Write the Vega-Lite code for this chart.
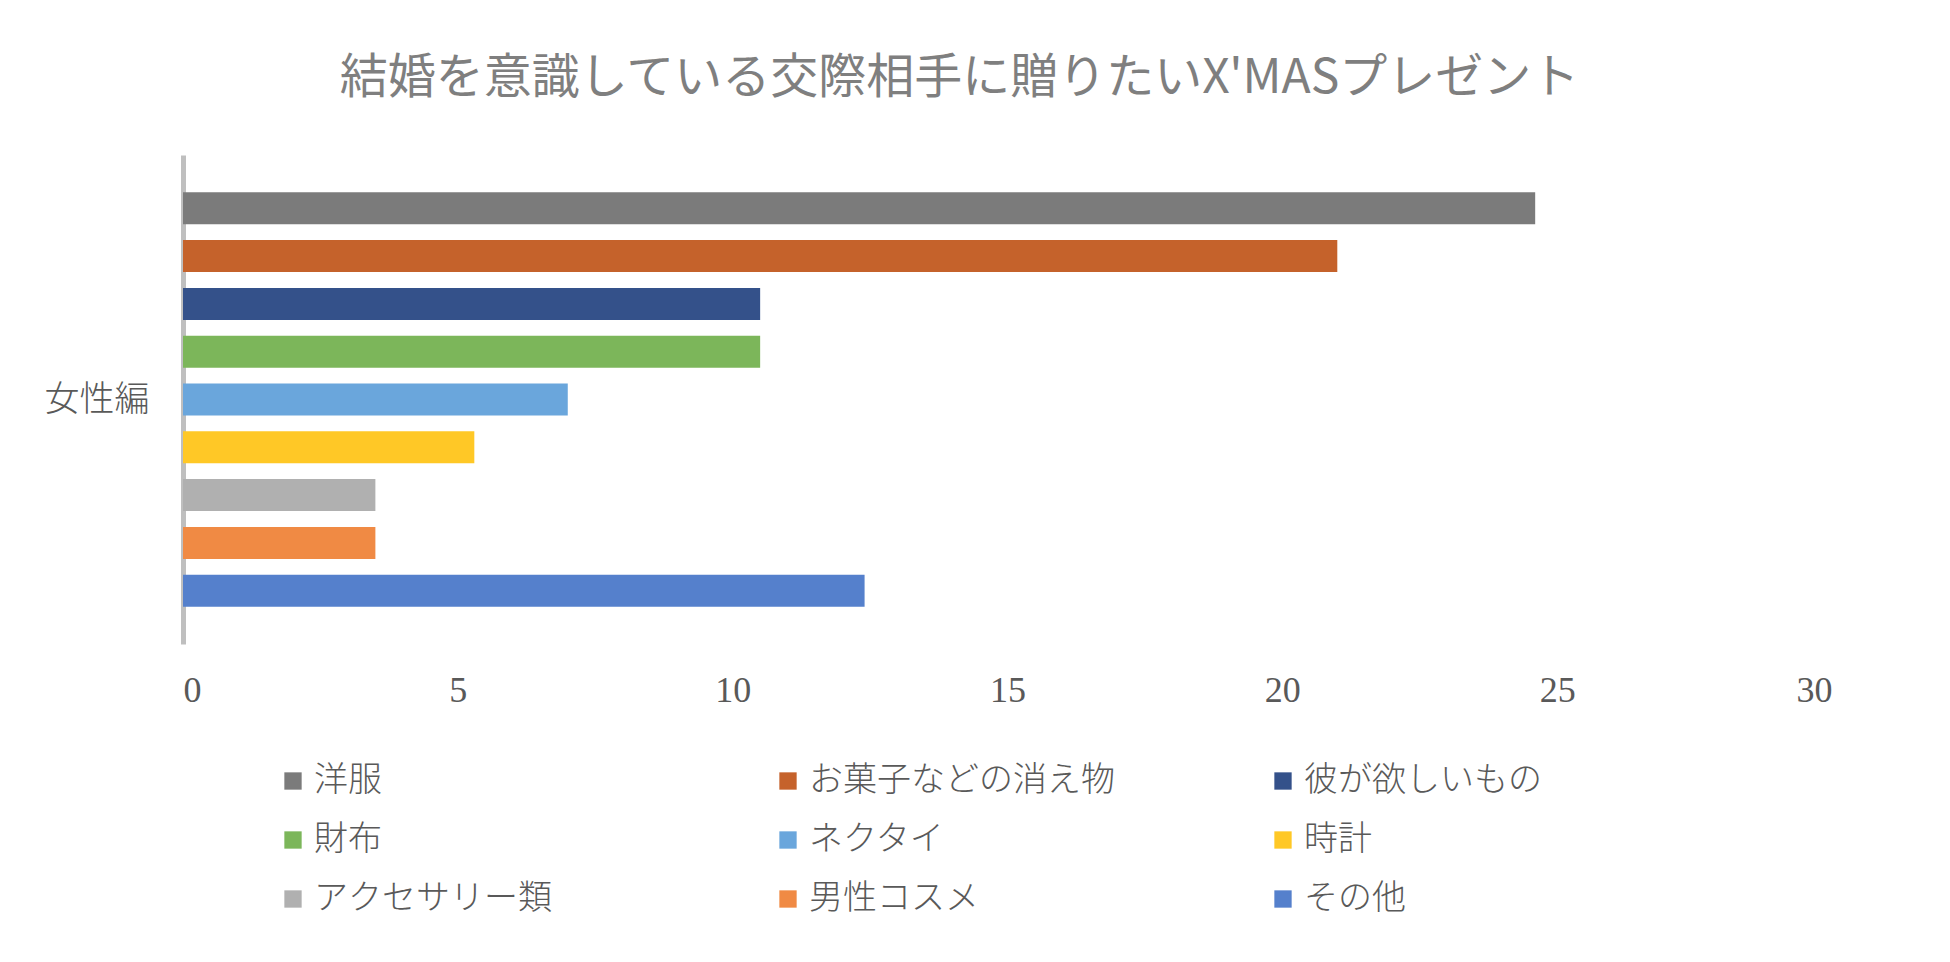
{
  "$schema": "https://vega.github.io/schema/vega-lite/v6.json",
  "width": 1649,
  "height": 489,
  "autosize": {"type": "none"},
  "padding": {"left": 183, "top": 155, "right": 118, "bottom": 318},
  "background": "white",
  "title": {
    "text": "結婚を意識している交際相手に贈りたいX'MASプレゼント",
    "anchor": "middle",
    "font": "Noto Sans CJK JP",
    "fontSize": 48,
    "fontWeight": 400,
    "color": "#7f7f7f",
    "offset": 52,
    "dx": -48
  },
  "data": {
    "values": [
      {"group": "女性編", "item": "洋服", "value": 24.6},
      {"group": "女性編", "item": "お菓子などの消え物", "value": 21.0},
      {"group": "女性編", "item": "彼が欲しいもの", "value": 10.5},
      {"group": "女性編", "item": "財布", "value": 10.5},
      {"group": "女性編", "item": "ネクタイ", "value": 7.0},
      {"group": "女性編", "item": "時計", "value": 5.3},
      {"group": "女性編", "item": "アクセサリー類", "value": 3.5},
      {"group": "女性編", "item": "男性コスメ", "value": 3.5},
      {"group": "女性編", "item": "その他", "value": 12.4}
    ]
  },
  "mark": {"type": "bar"},
  "encoding": {
    "y": {
      "field": "group",
      "type": "nominal",
      "title": null,
      "scale": {"paddingOuter": 0.09, "paddingInner": 0},
      "axis": {
        "domainColor": "#bfbfbf",
        "domainWidth": 5,
        "ticks": false,
        "labelAngle": 0,
        "labelFont": "Noto Sans CJK JP",
        "labelFontWeight": 300,
        "labelFontSize": 35,
        "labelColor": "#595959",
        "labelPadding": 34
      }
    },
    "yOffset": {
      "field": "item",
      "type": "nominal",
      "sort": ["洋服", "お菓子などの消え物", "彼が欲しいもの", "財布", "ネクタイ", "時計", "アクセサリー類", "男性コスメ", "その他"],
      "scale": {"paddingInner": 0.33, "paddingOuter": 0}
    },
    "x": {
      "field": "value",
      "type": "quantitative",
      "title": null,
      "scale": {"domain": [0, 30]},
      "axis": {
        "values": [0, 5, 10, 15, 20, 25, 30],
        "grid": false,
        "domain": false,
        "ticks": false,
        "labelFont": "Liberation Serif",
        "labelFontSize": 36,
        "labelColor": "#595959",
        "labelPadding": 29
      }
    },
    "color": {
      "field": "item",
      "type": "nominal",
      "title": null,
      "sort": ["洋服", "お菓子などの消え物", "彼が欲しいもの", "財布", "ネクタイ", "時計", "アクセサリー類", "男性コスメ", "その他"],
      "scale": {
        "range": ["#7b7b7b", "#c5622b", "#34518a", "#7cb65a", "#6aa6dc", "#ffc826", "#b0b0b0", "#f08a44", "#5580cc"]
      },
      "legend": {
        "orient": "none",
        "direction": "horizontal",
        "legendX": 93,
        "legendY": 609,
        "columns": 3,
        "gridAlign": "all",
        "columnPadding": 151,
        "rowPadding": 25,
        "symbolType": "square",
        "symbolSize": 300,
        "symbolStrokeWidth": 0,
        "labelFont": "Noto Sans CJK JP",
        "labelFontWeight": 300,
        "labelFontSize": 34,
        "labelColor": "#595959",
        "labelOffset": 4,
        "labelLimit": 0
      }
    }
  },
  "config": {"view": {"stroke": null}}
}
